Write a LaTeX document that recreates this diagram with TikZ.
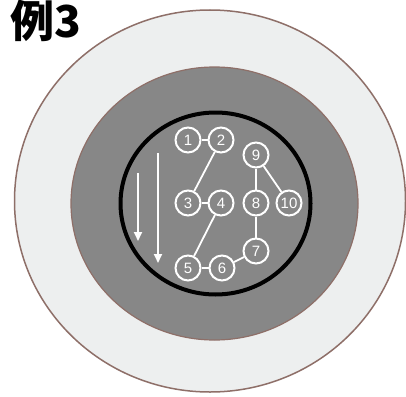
\documentclass[tikz,border=0pt]{standalone}
\usepackage{fontspec}
\setmainfont{Liberation Sans}
\newfontfamily\cjk{Noto Sans CJK JP Black}
\usetikzlibrary{arrows.meta}
\definecolor{ringline}{HTML}{8E6F68}
\definecolor{outerfill}{HTML}{EDEFEF}
\definecolor{midfill}{HTML}{878787}
\tikzset{
  num/.style={circle, draw=white, line width=2pt, minimum size=25pt, inner sep=0pt, text=white, font=\fontsize{15}{15}\selectfont},
  link/.style={draw=white, line width=1.8pt},
  downarrow/.style={draw=white, line width=2pt, -{Triangle[length=9pt,width=8pt]}}
}
\begin{document}
\begin{tikzpicture}[x=1pt,y=-1pt]
\useasboundingbox (0,0) rectangle (406,396);
\fill[white] (0,0) rectangle (406,396);
\draw[ringline, fill=outerfill, line width=1.5pt] (210,201) ellipse [x radius=195.5, y radius=191];
\draw[ringline, fill=midfill, line width=1.2pt] (214.5,203.5) ellipse [x radius=143.5, y radius=136.5];
\draw[black, line width=4pt] (215.5,203.5) ellipse [x radius=95, y radius=91];
\node[anchor=center, font=\cjk\fontsize{44}{44}\selectfont] (title) at (46,21) {例3};
\node[num] (n1) at (188,140) {1};
\node[num] (n2) at (221,140) {2};
\node[num] (n9) at (256,155) {9};
\node[num] (n3) at (188,203) {3};
\node[num] (n4) at (221,203) {4};
\node[num] (n8) at (256,203) {8};
\node[num] (n10) at (289,203) {10};
\node[num] (n7) at (256,251) {7};
\node[num] (n5) at (188,268) {5};
\node[num] (n6) at (222,268) {6};
\path[link] (n1) -- (n2);
\path[link] (n2) -- (n3);
\path[link] (n3) -- (n4);
\path[link] (n4) -- (n5);
\path[link] (n5) -- (n6);
\path[link] (n6) -- (n7);
\path[link] (n7) -- (n8);
\path[link] (n8) -- (n9);
\path[link] (n9) -- (n10);
\coordinate (a1s) at (138,173);
\coordinate (a1e) at (138,241);
\coordinate (a2s) at (158,153);
\coordinate (a2e) at (158,263);
\draw[downarrow] (a1s) -- (a1e);
\draw[downarrow] (a2s) -- (a2e);
\end{tikzpicture}
\end{document}
